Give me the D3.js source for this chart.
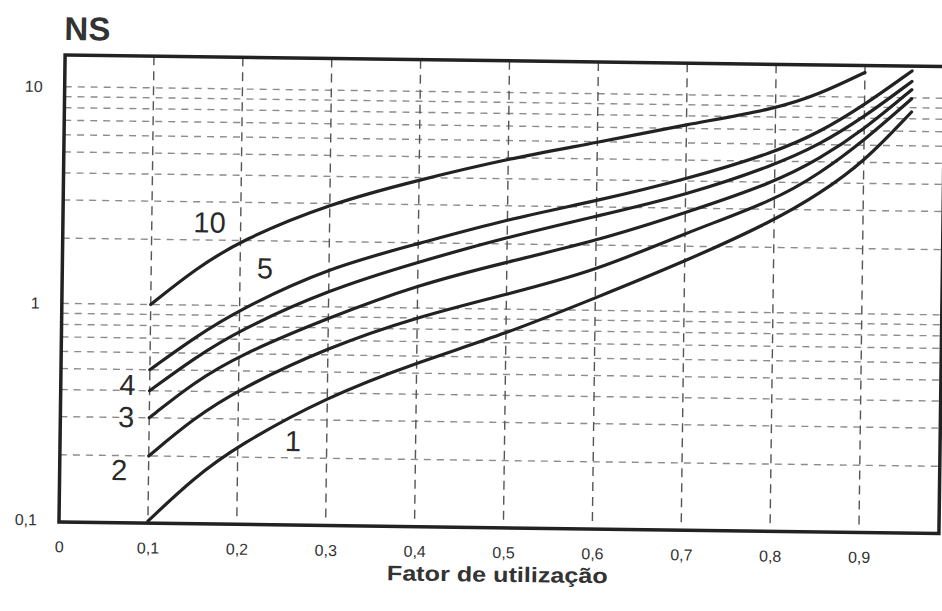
<!DOCTYPE html>
<html>
<head>
<meta charset="utf-8">
<script src="https://cdn.jsdelivr.net/npm/d3@7"></script>
<style>
  body { margin: 0; background: #fff; }
  svg { font-family: "Liberation Sans", Arial, sans-serif; }
</style>
</head>
<body>
<div id="chart"></div>
<script>
// utilization factor (x) sample points
var fator = [0.1, 0.15, 0.2, 0.3, 0.4, 0.5, 0.6, 0.7, 0.8, 0.85, 0.9, 0.953];
// NS for each curve
var ns10 = [1.0, 1.47, 2.0, 3.0, 3.9, 4.95, 5.95, 7.3, 8.7, 10.3, 13.0];
var ns5 = [0.5, 0.71, 0.96, 1.52, 1.98, 2.6, 3.2, 4.07, 5.5, 6.85, 9.2, 13.3];
var ns4 = [0.4, 0.57, 0.77, 1.2, 1.63, 2.15, 2.72, 3.44, 4.8, 6.0, 8.1, 11.9];
var ns3 = [0.3, 0.44, 0.59, 0.89, 1.28, 1.65, 2.09, 2.85, 4.0, 5.15, 7.1, 10.9];
var ns2 = [0.2, 0.3, 0.41, 0.65, 0.91, 1.17, 1.52, 2.3, 3.3, 4.4, 6.3, 9.9];
var ns1 = [0.1, 0.158, 0.226, 0.385, 0.56, 0.77, 1.14, 1.70, 2.66, 3.55, 5.0, 8.6];

var curveNames = ["10", "5", "4", "3", "2", "1"];
var curveValues = [ns10, ns5, ns4, ns3, ns2, ns1];
// where each curve number is written (x value, NS value)
var labelX = [0.165, 0.228, 0.075, 0.074, 0.067, 0.262];
var labelY = [2.42, 1.5, 0.426, 0.303, 0.172, 0.24];

var xTicks = [0, 0.1, 0.2, 0.3, 0.4, 0.5, 0.6, 0.7, 0.8, 0.9];
var yTicks = [0.1, 1, 10];

var width = 942, height = 611;
var margin = {top: 55, right: 3, bottom: 90, left: 59};

var svg = d3.select("#chart")
  .append("svg")
    .attr("width", width)
    .attr("height", height);

// the scanned page is slightly turned, so the whole drawing is too
var g = svg.append("g")
  .attr("transform", "rotate(0.75, 59, 521)");

var x = d3.scaleLinear()
  .domain([0, 0.99])
  .range([margin.left, width - margin.right]);

var y = d3.scaleLog()
  .domain([0.1, 14])
  .range([520, margin.top]);

// horizontal dashed grid at every minor log tick
var hLines = [];
[0.1, 1].forEach(function(dec) {
  for (var k = 2; k <= 10; k++) hLines.push(dec * k);
});
g.append("g")
  .selectAll("line")
  .data(hLines)
  .enter()
  .append("line")
    .attr("x1", x(0))
    .attr("x2", x(0.99))
    .attr("y1", function(d) { return y(d); })
    .attr("y2", function(d) { return y(d); })
    .attr("stroke", "#8c8c8c")
    .attr("stroke-width", 1.4)
    .attr("stroke-dasharray", "7,6");

// vertical dashed grid
g.append("g")
  .selectAll("line")
  .data(xTicks.slice(1))
  .enter()
  .append("line")
    .attr("x1", function(d) { return x(d); })
    .attr("x2", function(d) { return x(d); })
    .attr("y1", y(14))
    .attr("y2", y(0.1))
    .attr("stroke", "#555")
    .attr("stroke-width", 1.4)
    .attr("stroke-dasharray", "9,6");

// curves
var line = d3.line()
  .x(function(d) { return x(d[0]); })
  .y(function(d) { return y(d[1]); })
  .curve(d3.curveBasis);

g.append("g")
  .selectAll("path")
  .data(curveValues)
  .enter()
  .append("path")
    .attr("d", function(vals) {
      return line(vals.map(function(v, i) { return [fator[i], v]; }));
    })
    .attr("fill", "none")
    .attr("stroke", "#222")
    .attr("stroke-width", 3.2)
    .attr("stroke-linecap", "round");

// curve numbers
g.append("g")
  .selectAll("text")
  .data(curveNames)
  .enter()
  .append("text")
    .attr("x", function(d, i) { return x(labelX[i]); })
    .attr("y", function(d, i) { return y(labelY[i]); })
    .attr("text-anchor", "middle")
    .attr("dy", "0.36em")
    .style("font-size", "29px")
    .style("fill", "#2a2a2a")
    .text(function(d) { return d; });

// frame
g.append("rect")
  .attr("x", x(0))
  .attr("y", y(14))
  .attr("width", x(0.99) - x(0))
  .attr("height", y(0.1) - y(14) + 2)
  .attr("fill", "none")
  .attr("stroke", "#222")
  .attr("stroke-width", 3.5);

// X axis labels
g.append("g")
  .attr("transform", "translate(0," + 538 + ")")
  .call(d3.axisBottom(x)
    .tickValues(xTicks)
    .tickSize(0)
    .tickFormat(function(d) { return d === 0 ? "0" : d3.format(".1f")(d).replace(".", ","); }))
  .call(function(s) { s.select(".domain").remove(); })
  .selectAll("text")
    .style("font-size", "16px")
    .style("font-family", "'Liberation Sans', Arial, sans-serif")
    .style("fill", "#333");

// Y axis labels
g.append("g")
  .attr("transform", "translate(" + 40 + ",0)")
  .call(d3.axisLeft(y)
    .tickValues(yTicks)
    .tickSize(0)
    .tickFormat(function(d) { return d === 0.1 ? "0,1" : String(d); }))
  .call(function(s) { s.select(".domain").remove(); })
  .selectAll("text")
    .style("font-size", "16px")
    .style("font-family", "'Liberation Sans', Arial, sans-serif")
    .style("fill", "#333");

// titles
g.append("text")
  .attr("x", 58)
  .attr("y", 40)
  .style("font-size", "33px")
  .style("font-weight", "bold")
  .style("fill", "#333")
  .text("NS");

g.append("text")
  .attr("x", 498)
  .attr("y", 576)
  .attr("text-anchor", "middle")
  .attr("textLength", 221)
  .attr("lengthAdjust", "spacingAndGlyphs")
  .style("font-size", "21px")
  .style("font-weight", "bold")
  .style("fill", "#333")
  .text("Fator de utilização");
</script>
</body>
</html>
